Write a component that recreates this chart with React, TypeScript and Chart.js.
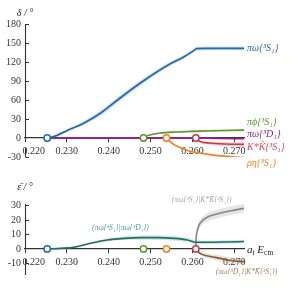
import React, { useEffect, useRef } from "react";
import { Chart, registerables } from "chart.js";
Chart.register(...registerables);

// ---------- axes ----------
const xMin = 0.22;
const xMax = 0.2723;
const xTicks = [0.22, 0.23, 0.24, 0.25, 0.26, 0.27];
const topYTicks = [-30, 0, 30, 60, 90, 120, 150, 180];
const botYTicks = [-10, 0, 10, 20, 30];

// thresholds: πω, πφ, ρη, K*K̄
const thresholdE = [0.2253, 0.2483, 0.2538, 0.2608];

// ---------- top panel: phase shifts δ ----------
const piOmegaS_E = [0.2253, 0.2272, 0.2301, 0.2339, 0.238, 0.2421, 0.2459, 0.25, 0.2541, 0.2579, 0.2603, 0.261, 0.2632, 0.268, 0.2723];
const piOmegaS_delta = [0, 3, 12, 23, 39, 60, 79, 98, 115, 128, 138, 141, 141.6, 141.6, 141.6];
const piOmegaS_err = [0.5, 1.5, 2, 3, 4, 4.2, 4.2, 3.8, 3.2, 3, 3, 3, 3, 3, 3];

const piPhi_E = [0.2483, 0.249, 0.25, 0.252, 0.256, 0.26, 0.265, 0.2723];
const piPhi_delta = [0, 3, 5, 7.5, 9.5, 10.5, 11.5, 12.5];
const piPhi_err = [0.3, 0.8, 1, 1.3, 1.6, 1.8, 2, 2.3];

const piOmegaD_E = [0.2253, 0.24, 0.255, 0.2608, 0.266, 0.2723];
const piOmegaD_delta = [0, 0, 0, 0, -0.5, -1];
const piOmegaD_err = [0.2, 0.3, 0.3, 0.4, 0.6, 0.8];

const rhoEta_E = [0.2538, 0.2545, 0.2555, 0.257, 0.259, 0.261, 0.265, 0.27, 0.2723];
const rhoEta_delta = [0, -5, -10, -15, -20, -23, -27, -30, -31];
const rhoEta_err = [0.3, 0.8, 1, 1.2, 1.5, 1.5, 1.5, 1.8, 2];

const kstarK_E = [0.2608, 0.2612, 0.262, 0.264, 0.268, 0.2723];
const kstarK_delta = [0, -3, -6, -8, -9.5, -10];
const kstarK_err = [0.3, 1, 2, 3, 3.5, 4];

// ---------- bottom panel: mixing angles ε̄ ----------
const mixSD_E = [0.2253, 0.2284, 0.2316, 0.2356, 0.2396, 0.2436, 0.2476, 0.2516, 0.2556, 0.2588, 0.2608, 0.2636, 0.268, 0.2723];
const mixSD_eps = [0, 0.4, 1.1, 3.9, 6.2, 7.3, 7.8, 7.8, 7.3, 6.2, 4.6, 4.6, 4.8, 5.1];
const mixSD_err = [0.2, 0.3, 0.5, 0.8, 1, 1.2, 1.5, 1.6, 1.6, 1.5, 1.5, 1.2, 1.2, 1.2];

const mixSK_E = [0.2608, 0.26085, 0.2611, 0.2615, 0.262, 0.2636, 0.266, 0.2692, 0.2723];
const mixSK_eps = [0, 6, 12, 16, 18.4, 22, 24.2, 26.4, 28];
const mixSK_err = [0.5, 1.5, 2, 2.5, 2.5, 3, 3, 3, 3];

const mixDK_E = [0.2608, 0.2612, 0.262, 0.2652, 0.2692, 0.2723];
const mixDK_eps = [0, -1.5, -3.4, -5.7, -8, -8.8];
const mixDK_err = [0.3, 0.8, 1.2, 1.8, 2, 2];

// ---------- styles ----------
const FAMILY = "'Liberation Serif', 'Times New Roman', serif";
const AXIS = "#333";
const C = {
  blue: "rgb(35,105,178)",
  green: "rgb(95,150,45)",
  purple: "rgb(140,40,140)",
  orange: "rgb(245,128,30)",
  red: "rgb(205,55,78)",
  teal: "rgb(35,112,105)",
  gray: "rgb(135,135,135)",
  brown: "rgb(135,92,55)",
};
const thresholdColors = [C.blue, C.green, C.orange, C.red];

type Pt = { x: number; y: number };
const pts = (xs: number[], ys: number[]): Pt[] => xs.map((x, i) => ({ x, y: ys[i] }));
const offs = (xs: number[], ys: number[], es: number[], s: number): Pt[] =>
  xs.map((x, i) => ({ x, y: ys[i] + s * es[i] }));

function series(xs: number[], ys: number[], es: number[], color: string, band: string, width = 1.6) {
  return [
    {
      type: "line", data: offs(xs, ys, es, 1), borderWidth: 0, borderColor: "rgba(0,0,0,0)",
      pointRadius: 0, fill: false, order: 3, cubicInterpolationMode: "monotone",
    },
    {
      type: "line", data: offs(xs, ys, es, -1), borderWidth: 0, borderColor: "rgba(0,0,0,0)",
      pointRadius: 0, fill: "-1", backgroundColor: band, order: 3, cubicInterpolationMode: "monotone",
    },
    {
      type: "line", data: pts(xs, ys), borderColor: color, borderWidth: width,
      pointRadius: 0, fill: false, order: 1, cubicInterpolationMode: "monotone",
    },
  ];
}

function markers() {
  return {
    type: "line", showLine: false, data: thresholdE.map((x) => ({ x, y: 0 })),
    pointRadius: 3.2, pointBorderWidth: 1.5, pointBackgroundColor: "#fff",
    pointBorderColor: thresholdColors, order: 0,
  };
}

type Label = { text: string; e: number; v: number; dx: number; color: string; font: string; align: CanvasTextAlign };

function decoPlugin(yTicks: number[], labels: Label[], ecm: { e: number; dx: number } | null) {
  return {
    id: "deco",
    beforeDraw(chart: any) {
      const { ctx, chartArea } = chart;
      const ys = chart.scales.y;
      const x0 = Math.round(chartArea.left) + 0.5;
      const y0 = ys.getPixelForValue(0);
      ctx.save();
      ctx.strokeStyle = AXIS;
      ctx.lineWidth = 1.1;
      ctx.beginPath();
      ctx.moveTo(x0, chartArea.top);
      ctx.lineTo(x0, y0);
      ctx.moveTo(x0, y0 + 10);
      ctx.lineTo(x0, chartArea.bottom);
      ctx.stroke();
      ctx.beginPath();
      for (const v of yTicks) {
        const p = Math.round(ys.getPixelForValue(v)) + 0.5;
        if (v === 0) continue;
        ctx.moveTo(x0, p);
        ctx.lineTo(x0 + 3.5, p);
      }
      ctx.stroke();
      ctx.restore();
    },
    afterDraw(chart: any) {
      const { ctx } = chart;
      const xs = chart.scales.x;
      const ys = chart.scales.y;
      ctx.save();
      ctx.textBaseline = "middle";
      for (const l of labels) {
        ctx.font = l.font;
        ctx.fillStyle = l.color;
        ctx.textAlign = l.align;
        ctx.fillText(l.text, xs.getPixelForValue(l.e) + l.dx, ys.getPixelForValue(l.v));
      }
      if (ecm) {
        let x = xs.getPixelForValue(ecm.e) + ecm.dx;
        const y = ys.getPixelForValue(0);
        ctx.fillStyle = "#222";
        ctx.textAlign = "left";
        ctx.textBaseline = "alphabetic";
        const big = `italic 11px ${FAMILY}`;
        const small = `7.5px ${FAMILY}`;
        const parts: [string, string, number][] = [
          ["a", big, 0], ["t", `italic 7.5px ${FAMILY}`, 2.5], [" ", big, 0], ["E", big, 0], ["cm", small, 2.5],
        ];
        for (const [t, f, d] of parts) {
          ctx.font = f;
          ctx.fillText(t, x, y + 4 + d);
          x += ctx.measureText(t).width;
        }
      }
      ctx.restore();
    },
  };
}

function makeOptions(yMin: number, yMax: number, yTicks: number[], padding: any) {
  return {
    animation: false,
    responsive: false,
    maintainAspectRatio: false,
    devicePixelRatio: 1,
    layout: { padding },
    plugins: { legend: { display: false }, tooltip: { enabled: false }, title: { display: false } },
    scales: {
      x: {
        type: "linear",
        min: xMin,
        max: xMax,
        position: { y: 0 },
        afterBuildTicks: (s: any) => { s.ticks = xTicks.map((v) => ({ value: v })); },
        ticks: {
          font: { family: FAMILY, size: 10 },
          color: AXIS,
          padding: 3,
          maxRotation: 0,
          autoSkip: false,
          callback: (v: number) => (v === xTicks[0] ? "       " + v.toFixed(3) : v.toFixed(3)),
        },
        grid: { display: true, drawOnChartArea: false, drawTicks: true, tickLength: 4, color: AXIS, lineWidth: 1 },
        border: { display: true, color: AXIS, width: 1.2 },
      },
      y: {
        type: "linear",
        min: yMin,
        max: yMax,
        afterBuildTicks: (s: any) => { s.ticks = yTicks.map((v) => ({ value: v })); },
        afterFit: (s: any) => { s.width = 25; },
        ticks: { font: { family: FAMILY, size: 10 }, color: AXIS, padding: 4 },
        grid: { display: false, drawTicks: false },
        border: { display: false },
      },
    },
  };
}

const rightFont = `italic 10px ${FAMILY}`;
const smallFont = `italic 7.6px ${FAMILY}`;

const topLabels: Label[] = [
  { text: "δ / °", e: xMin, v: 197, dx: 0, color: "#222", font: `italic 10px ${FAMILY}`, align: "center" },
  { text: "πω{³S₁}", e: xMax, v: 141.6, dx: 3, color: C.blue, font: rightFont, align: "left" },
  { text: "πϕ{³S₁}", e: xMax, v: 24.5, dx: 3, color: C.green, font: rightFont, align: "left" },
  { text: "πω{³D₁}", e: xMax, v: 6.3, dx: 3, color: C.purple, font: rightFont, align: "left" },
  { text: "K*K̄{³S₁}", e: xMax, v: -14.2, dx: 3, color: "rgb(220,75,90)", font: rightFont, align: "left" },
  { text: "ρη{³S₁}", e: xMax, v: -39.5, dx: 3, color: C.orange, font: rightFont, align: "left" },
];

const botLabels: Label[] = [
  { text: "ε̄ / °", e: xMin, v: 42.8, dx: 0, color: "#222", font: `italic 10px ${FAMILY}`, align: "center" },
  { text: "(πω{³S₁}|πω{³D₁})", e: 0.2428, v: 14.3, dx: 0, color: "rgb(80,150,150)", font: smallFont, align: "center" },
  { text: "(πω{³S₁}|K*K̄{³S₁})", e: 0.2622, v: 33.8, dx: 0, color: "rgb(165,165,165)", font: smallFont, align: "center" },
  { text: "(πω{³D₁}|K*K̄{³S₁})", e: xMax, v: -15.9, dx: 2.5, color: "rgb(170,130,90)", font: smallFont, align: "center" },
];

export default function App() {
  const topRef = useRef<HTMLCanvasElement>(null);
  const botRef = useRef<HTMLCanvasElement>(null);

  useEffect(() => {
    document.body.style.margin = "0";
    const top = new Chart(topRef.current as HTMLCanvasElement, {
      type: "line",
      data: {
        datasets: [
          markers(),
          ...series(piOmegaS_E, piOmegaS_delta, piOmegaS_err, C.blue, "rgba(110,165,220,0.35)", 1.7),
          ...series(piPhi_E, piPhi_delta, piPhi_err, C.green, "rgba(150,200,110,0.35)"),
          ...series(piOmegaD_E, piOmegaD_delta, piOmegaD_err, C.purple, "rgba(190,120,190,0.3)", 1.8),
          ...series(rhoEta_E, rhoEta_delta, rhoEta_err, C.orange, "rgba(250,180,120,0.35)"),
          ...series(kstarK_E, kstarK_delta, kstarK_err, C.red, "rgba(235,150,160,0.4)"),
        ] as any,
      },
      options: makeOptions(-30, 180, topYTicks, { top: 24, bottom: 15, left: 0, right: 55 }) as any,
      plugins: [decoPlugin(topYTicks, topLabels, null)] as any,
    });
    const bot = new Chart(botRef.current as HTMLCanvasElement, {
      type: "line",
      data: {
        datasets: [
          markers(),
          ...series(mixSD_E, mixSD_eps, mixSD_err, C.teal, "rgba(120,185,180,0.35)"),
          ...series(mixSK_E, mixSK_eps, mixSK_err, C.gray, "rgba(190,190,190,0.4)"),
          ...series(mixDK_E, mixDK_eps, mixDK_err, C.brown, "rgba(200,170,140,0.35)"),
        ] as any,
      },
      options: makeOptions(-18, 31, botYTicks, { top: 32, bottom: 15, left: 0, right: 55 }) as any,
      plugins: [decoPlugin(botYTicks, botLabels, { e: xMax, dx: 3 })] as any,
    });
    return () => {
      top.destroy();
      bot.destroy();
    };
  }, []);

  return (
    <div style={{ position: "absolute", left: 0, top: 0, width: 299, height: 290, background: "#fff" }}>
      <canvas ref={topRef} width={299} height={172} style={{ position: "absolute", left: 0, top: 0 }} />
      <canvas ref={botRef} width={299} height={118} style={{ position: "absolute", left: 0, top: 172 }} />
    </div>
  );
}
